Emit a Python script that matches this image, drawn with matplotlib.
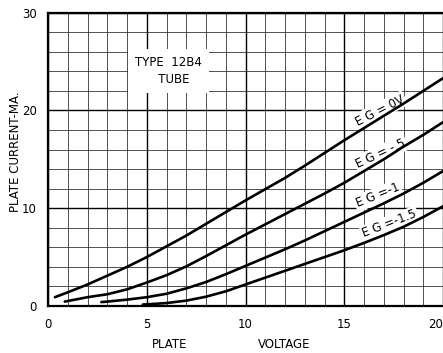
import matplotlib.pyplot as plt

# plate characteristics of the 12B4 tube
eg0_v = [0.35, 1, 2, 3, 4, 5, 6, 7, 8, 9, 10, 11, 12, 13, 14, 15, 16, 17, 18, 19, 20]
eg0_ma = [0.9, 1.4, 2.2, 3.1, 4.0, 5.0, 6.1, 7.2, 8.4, 9.6, 10.8, 11.95, 13.1, 14.35,
          15.65, 16.95, 18.2, 19.45, 20.7, 22.0, 23.3]

eg05_v = [0.85, 2, 3, 4, 5, 6, 7, 8, 9, 10, 11, 12, 13, 14, 15, 16, 17, 18, 19, 20]
eg05_ma = [0.45, 0.9, 1.2, 1.7, 2.4, 3.15, 4.05, 5.1, 6.2, 7.3, 8.35, 9.4, 10.45,
           11.5, 12.6, 13.8, 15.0, 16.3, 17.5, 18.8]

eg1_v = [2.7, 3, 4, 5, 6, 7, 8, 9, 10, 11, 12, 13, 14, 15, 16, 17, 18, 19, 20]
eg1_ma = [0.4, 0.45, 0.65, 0.9, 1.25, 1.8, 2.45, 3.25, 4.1, 4.95, 5.8, 6.7, 7.65,
          8.6, 9.55, 10.5, 11.5, 12.6, 13.8]

eg15_v = [4.8, 5, 6, 7, 8, 9, 10, 11, 12, 13, 14, 15, 16, 17, 18, 19, 20]
eg15_ma = [0.15, 0.17, 0.3, 0.55, 0.95, 1.5, 2.2, 2.9, 3.6, 4.3, 5.0, 5.7, 6.45,
           7.25, 8.1, 9.1, 10.2]

curves = [(eg0_v, eg0_ma), (eg05_v, eg05_ma), (eg1_v, eg1_ma), (eg15_v, eg15_ma)]

# curve labels: text, position, angle
labels = ["E G = 0V", "E G = -.5", "E G =-1", "E G =-1.5"]
label_x = [16.8, 16.85, 16.7, 17.3]
label_y = [20.0, 15.6, 11.3, 8.4]
label_rot = [27, 25, 22, 21]

W, H = 443, 353
fig = plt.figure(figsize=(W / 100, H / 100), dpi=100)
ax = fig.add_axes([48 / W, 47 / H, 395 / W, 293.3 / H])

ax.set_xlim(0, 20)
ax.set_ylim(0, 30)
ax.set_xticks(range(0, 21, 5))
ax.set_xticks(range(0, 21), minor=True)
ax.set_yticks(range(0, 31, 10))
ax.set_yticks(range(0, 31, 2), minor=True)

ax.grid(which="minor", color="#333333", lw=0.6, zorder=0)
ax.grid(which="major", color="#000000", lw=1.0, zorder=0)
ax.set_axisbelow(True)

ax.tick_params(which="both", length=0)
ax.tick_params(axis="x", pad=9, labelsize=8.5)
ax.tick_params(axis="y", pad=8, labelsize=8.5)
ax.get_xticklabels()[-1].set_ha("right")

for side in ["left", "top", "bottom"]:
    ax.spines[side].set_linewidth(1.6)
ax.spines["right"].set_visible(False)

for v, ma in curves:
    ax.plot(v, ma, color="black", lw=1.9, zorder=3, solid_capstyle="round")

for t, x, y, r in zip(labels, label_x, label_y, label_rot):
    ax.text(x, y, t, rotation=r, rotation_mode="anchor", ha="center", va="center",
            fontsize=8.5, zorder=2,
            bbox=dict(boxstyle="square,pad=0.15", fc="white", ec="none"))

ax.text(6.1, 24.0, "TYPE  12B4\n   TUBE", ha="center", va="center", fontsize=8.5,
        linespacing=1.4, zorder=2,
        bbox=dict(boxstyle="square,pad=0.6", fc="white", ec="none"))

fig.text(170 / W, 1 - 344 / H, "PLATE", ha="center", va="center", fontsize=8.5)
fig.text(284 / W, 1 - 344 / H, "VOLTAGE", ha="center", va="center", fontsize=8.5)
fig.text(16 / W, 1 - 152 / H, "PLATE CURRENT-MA.", rotation=90,
         ha="center", va="center", fontsize=8.5)

fig.savefig("out.png", dpi=100, facecolor="white")
